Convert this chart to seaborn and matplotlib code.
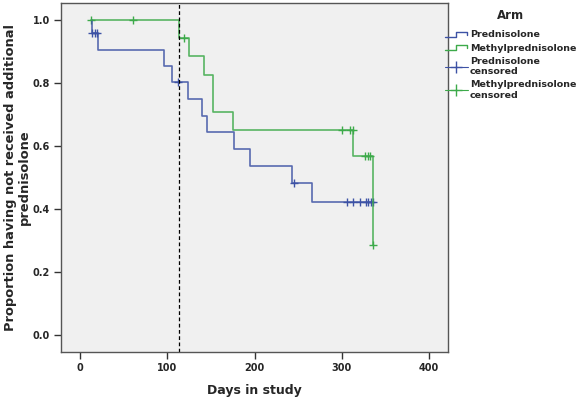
import numpy as np
import pandas as pd
import matplotlib
matplotlib.use("Agg")
import matplotlib.pyplot as plt
import seaborn as sns
from matplotlib.lines import Line2D
from matplotlib.legend_handler import HandlerBase

# Kaplan-Meier steps
pred_start = 13
pred_times = [13, 21, 96, 105, 124, 140, 146, 176, 195, 243, 266, 336]
pred_surv = [0.958, 0.904, 0.854, 0.805, 0.751, 0.697, 0.644, 0.590, 0.537, 0.484, 0.423, 0.423]
pred_cens_t = [14, 17, 19, 112, 245, 306, 313, 321, 328, 330, 334, 336]
pred_cens_s = [0.958, 0.958, 0.958, 0.805, 0.484, 0.423, 0.423, 0.423, 0.423, 0.423, 0.423, 0.423]

meth_start = 12
meth_times = [113, 125, 142, 152, 175, 313, 336]
meth_surv = [0.944, 0.887, 0.827, 0.709, 0.651, 0.568, 0.284]
meth_cens_t = [12, 61, 119, 300, 310, 313, 327, 330, 333, 336]
meth_cens_s = [1.0, 1.0, 0.944, 0.651, 0.651, 0.651, 0.568, 0.568, 0.568, 0.284]

cutoff_day = 113
arms = ["Prednisolone", "Methylprednisolone"]
colors = {"Prednisolone": "#3D52A5", "Methylprednisolone": "#3DAA4A"}

steps = pd.concat([
    pd.DataFrame({"t": [pred_start] + pred_times, "s": [1.0] + pred_surv, "Arm": arms[0]}),
    pd.DataFrame({"t": [meth_start] + meth_times, "s": [1.0] + meth_surv, "Arm": arms[1]}),
])
cens = pd.concat([
    pd.DataFrame({"t": pred_cens_t, "s": pred_cens_s, "Arm": arms[0]}),
    pd.DataFrame({"t": meth_cens_t, "s": meth_cens_s, "Arm": arms[1]}),
])

sns.set_style("ticks")
plt.rcParams["font.family"] = ["DejaVu Sans"]

fig = plt.figure(figsize=(5.79, 4.0), dpi=100)
ax = fig.add_axes([61 / 579, 1 - 352 / 400, (448 - 61) / 579, (352 - 3) / 400])
ax.set_facecolor("#F0F0F0")

for arm in arms:
    sub = steps[steps["Arm"] == arm]
    sns.lineplot(data=sub, x="t", y="s", color=colors[arm], drawstyle="steps-post",
                 estimator=None, sort=False, lw=1.2, alpha=0.85, ax=ax, legend=False)
    csub = cens[cens["Arm"] == arm]
    sns.scatterplot(data=csub, x="t", y="s", color=colors[arm], marker="+", s=30,
                    linewidth=1.0, ax=ax, legend=False)

ax.axvline(cutoff_day, color="black", ls=(0, (3, 2)), lw=0.9)

ax.set_xlim(-22, 422)
ax.set_ylim(-0.055, 1.055)
ax.set_xticks([0, 100, 200, 300, 400])
ax.set_yticks([0.0, 0.2, 0.4, 0.6, 0.8, 1.0])
ax.set_yticklabels([f"{v:.1f}" for v in [0.0, 0.2, 0.4, 0.6, 0.8, 1.0]])
ax.tick_params(direction="out", length=5, width=1, color="#333333", labelsize=7, pad=3)
for lab in ax.get_xticklabels() + ax.get_yticklabels():
    lab.set_fontweight("bold")
for sp in ax.spines.values():
    sp.set_visible(True)
    sp.set_color("#555555")
    sp.set_linewidth(1)

ax.set_xlabel("Days in study", fontsize=9, fontweight="bold", labelpad=8)
ax.set_ylabel("Proportion having not received additional\nprednisolone",
              fontsize=9.4, fontweight="bold", linespacing=1.1)
ax.yaxis.set_label_coords(-0.078, 0.5)


class StepHandler(HandlerBase):
    def create_artists(self, legend, orig_handle, xdescent, ydescent, width, height, fontsize, trans):
        x = np.array([0, 0.5, 0.5, 0.95, 0.95]) * width - xdescent
        y = np.array([0.1, 0.1, 0.8, 0.8, 0.4]) * height - ydescent
        ln = Line2D(x, y, color=orig_handle.get_color(), lw=1.0)
        ln.set_transform(trans)
        return [ln]


h_pred = Line2D([], [], color=colors["Prednisolone"])
h_meth = Line2D([], [], color=colors["Methylprednisolone"])
h_pc = Line2D([], [], color=colors["Prednisolone"], marker="+", markersize=9, lw=0.8)
h_mc = Line2D([], [], color=colors["Methylprednisolone"], marker="+", markersize=9, lw=0.8)
leg = fig.legend([h_pred, h_meth, h_pc, h_mc],
                 ["Prednisolone", "Methylprednisolone", "Prednisolone\ncensored",
                  "Methylprednisolone\ncensored"],
                 handler_map={h_pred: StepHandler(), h_meth: StepHandler()},
                 loc="upper left", bbox_to_anchor=(445 / 579, 1 - 9 / 400),
                 frameon=False, title="Arm", handlelength=2.4, handletextpad=0.25,
                 labelspacing=0.45, borderpad=0, borderaxespad=0,
                 prop={"weight": "bold", "size": 6.8},
                 title_fontproperties={"weight": "bold", "size": 8.5})
leg._legend_box.sep = 6

fig.savefig("out.png", dpi=100)
